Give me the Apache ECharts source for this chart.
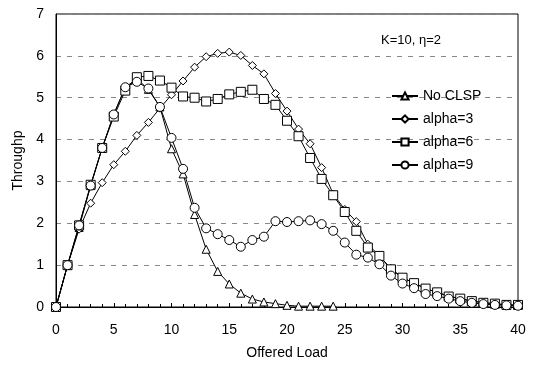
<!DOCTYPE html>
<html>
<head>
<meta charset="utf-8">
<script src="https://cdn.jsdelivr.net/npm/echarts@6/dist/echarts.min.js"></script>
<style>
html,body{margin:0;padding:0;background:#fff;}
#chart{width:539px;height:365px;}
</style>
</head>
<body>
<div id="chart"></div>
<script>
var offeredLoad = [];
for (var i = 0; i <= 40; i++) offeredLoad.push(i);

var seriesNames = ['No CLSP', 'alpha=3', 'alpha=6', 'alpha=9'];

var noClsp = [0,1.0,1.9,2.9,3.8,4.6,5.25,5.45,5.2,4.78,3.78,3.18,2.21,1.38,0.85,0.55,0.33,0.19,0.12,0.08,0.04,0.02,0.02,0.02,0.02];

var alpha3 = [0,1.0,1.86,2.48,2.97,3.4,3.72,4.1,4.41,4.75,5.07,5.4,5.73,5.98,6.06,6.09,6.01,5.77,5.57,5.1,4.68,4.25,3.9,3.33,2.7,2.33,2.04,1.5,1.22,0.92,0.7,0.57,0.44,0.35,0.26,0.2,0.14,0.1,0.08,0.05,0.04];

var alpha6 = [0,1.0,1.95,2.92,3.8,4.55,5.17,5.49,5.52,5.41,5.24,5.03,5.0,4.91,4.97,5.08,5.14,5.19,4.97,4.83,4.45,4.08,3.56,3.06,2.67,2.27,1.82,1.42,1.22,0.9,0.7,0.57,0.44,0.35,0.25,0.2,0.14,0.1,0.08,0.05,0.05];

var alpha9 = [0,1.0,1.95,2.9,3.8,4.6,5.25,5.38,5.22,4.78,4.04,3.3,2.37,1.88,1.74,1.6,1.44,1.6,1.68,2.05,2.03,2.05,2.07,1.98,1.82,1.54,1.25,1.18,1.02,0.75,0.56,0.45,0.31,0.26,0.2,0.14,0.1,0.07,0.05,0.04,0.03];

var xTicks = [0,5,10,15,20,25,30,35,40];
var yTicks = [0,1,2,3,4,5,6,7];

function pairs(vals) {
  return vals.map(function (v, i) { return [offeredLoad[i], v]; });
}

var FONT = 'Liberation Sans, Arial, sans-serif';

function mk(name, data, symbol, size) {
  return {
    name: name,
    type: 'line',
    data: pairs(data),
    symbol: symbol,
    symbolSize: size,
    showAllSymbol: true,
    lineStyle: { color: '#000', width: 1 },
    itemStyle: { color: '#fff', borderColor: '#000', borderWidth: 1 },
    emphasis: { disabled: true },
    animation: false
  };
}

var chart = echarts.init(document.getElementById('chart'));
chart.setOption({
  animation: false,
  grid: { left: 56, right: 21, top: 14, bottom: 57, show: true, borderColor: '#000', borderWidth: 1 },
  legend: {
    orient: 'vertical',
    left: 386,
    top: 84,
    itemWidth: 26,
    itemHeight: 9,
    itemGap: 9,
    data: seriesNames,
    textStyle: { fontFamily: FONT, fontSize: 14, color: '#000' }
  },
  xAxis: {
    type: 'value',
    min: 0, max: 40, interval: 5,
    name: 'Offered Load',
    nameLocation: 'middle',
    nameGap: 39,
    nameTextStyle: { fontFamily: FONT, fontSize: 14, color: '#000' },
    axisLine: { lineStyle: { color: '#000', width: 1 } },
    axisTick: { inside: true, length: 4, lineStyle: { color: '#000' } },
    minorTick: { show: true, splitNumber: 5, length: 3, lineStyle: { color: '#000' } },
    axisLabel: { fontFamily: FONT, fontSize: 14, color: '#000', margin: 16,
      formatter: function (v) { return xTicks.indexOf(v) >= 0 ? String(v) : ''; } },
    splitLine: { show: false }
  },
  yAxis: {
    type: 'value',
    min: 0, max: 7, interval: 1,
    name: 'Throughp',
    nameLocation: 'middle',
    nameGap: 31,
    nameTextStyle: { fontFamily: FONT, fontSize: 14, color: '#000' },
    axisLine: { lineStyle: { color: '#000', width: 1 } },
    axisTick: { show: false },
    axisLabel: { fontFamily: FONT, fontSize: 14, color: '#000', margin: 12,
      formatter: function (v) { return yTicks.indexOf(v) >= 0 ? String(v) : ''; } },
    splitLine: { show: true, lineStyle: { color: '#888', type: [5, 6], width: 1 } }
  },
  graphic: [{
    type: 'text',
    left: 381,
    top: 34,
    style: { text: 'K=10, η=2', fontFamily: FONT, fontSize: 13, fill: '#000' }
  }],
  series: [
    mk(seriesNames[0], noClsp, 'triangle', 8),
    mk(seriesNames[1], alpha3, 'diamond', 8),
    mk(seriesNames[2], alpha6, 'rect', 9),
    mk(seriesNames[3], alpha9, 'circle', 9)
  ]
});
</script>
</body>
</html>
